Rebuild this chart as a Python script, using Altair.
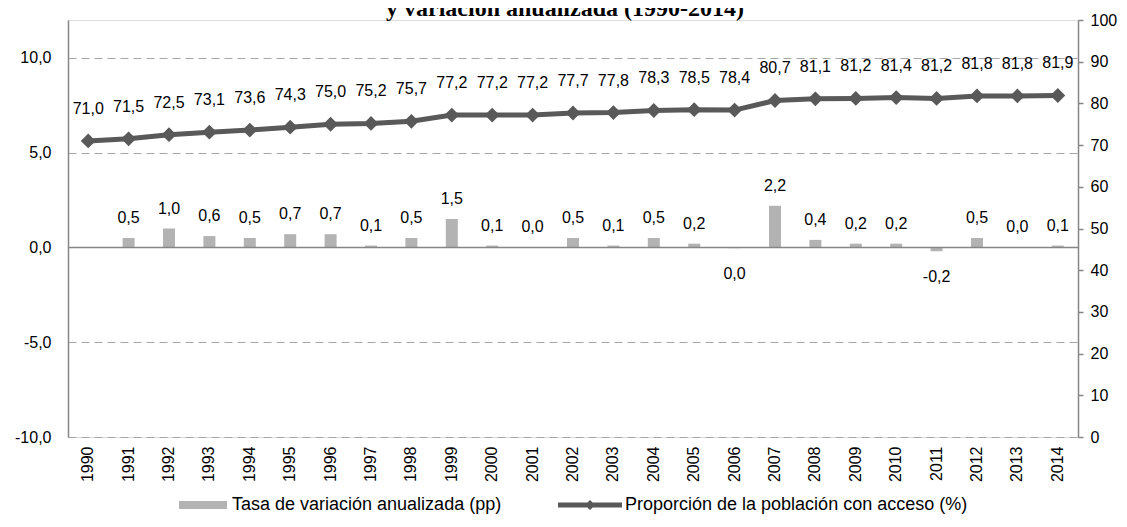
import altair as alt
import pandas as pd

years = [str(y) for y in range(1990, 2015)]
access = [71.0, 71.5, 72.5, 73.1, 73.6, 74.3, 75.0, 75.2, 75.7, 77.2, 77.2, 77.2, 77.7,
          77.8, 78.3, 78.5, 78.4, 80.7, 81.1, 81.2, 81.4, 81.2, 81.8, 81.8, 81.9]
variation = [None, 0.5, 1.0, 0.6, 0.5, 0.7, 0.7, 0.1, 0.5, 1.5, 0.1, 0.0, 0.5,
             0.1, 0.5, 0.2, -0.04, 2.2, 0.4, 0.2, 0.2, -0.2, 0.5, 0.0, 0.1]
left_ticks = [-10, -5, 0, 5, 10]
right_ticks = [0, 10, 20, 30, 40, 50, 60, 70, 80, 90, 100]
bar_name = "Tasa de variación anualizada (pp)"
line_name = "Proporción de la población con acceso (%)"
title_text = "y variación anualizada (1990-2014)"

df = pd.DataFrame({"year": years, "access": access, "chg": variation})
df["bar_s"] = bar_name
df["line_s"] = line_name

FONT = "Liberation Sans"
AX = "#868686"
FS = 16
LFS = 18


def comma_expr(field):
    return ("replace(replace(format(" + field + ", '.1f'), '.', ','), '\u2212', '-')")


x_enc = alt.X(
    "year:N", title=None,
    axis=alt.Axis(labelAngle=270, domain=False, ticks=False, tickSize=0,
                  labelPadding=9, labelFontSize=FS, labelFont=FONT,
                  labelColor="black"),
)

left_scale = alt.Scale(domain=[-10, 12], nice=False, zero=False)
right_scale = alt.Scale(domain=[0, 100], nice=False)

base = alt.Chart(df)

bars = base.mark_bar(size=12).encode(
    x=x_enc,
    y=alt.Y("chg:Q", scale=left_scale, title=None,
            axis=alt.Axis(values=left_ticks, orient="left", grid=True,
                          gridDash=[8, 5], gridColor="#a6a6a6", gridWidth=1,
                          ticks=False, tickSize=0, domainColor=AX, domainWidth=1.5,
                          labelExpr=comma_expr("datum.value"), labelPadding=17,
                          labelFontSize=FS, labelFont=FONT, labelColor="black")),
    color=alt.Color("bar_s:N", scale=alt.Scale(domain=[bar_name], range=["#b3b3b3"]),
                    legend=alt.Legend(title=None, orient="none", legendX=111, legendY=461,
                                      symbolType="M-1,-0.17H1V0.17H-1Z", symbolSize=2304,
                                      symbolStrokeWidth=0, labelFontSize=LFS, labelFont=FONT,
                                      labelColor="black", labelOffset=5, padding=0,
                                      labelLimit=0)),
).transform_filter("isValid(datum.chg)")

zero_rule = alt.Chart(pd.DataFrame({"z": [0]})).mark_rule(color=AX, strokeWidth=1.5).encode(
    y=alt.Y("z:Q", scale=left_scale, title=None)
)

bar_lab = base.transform_filter("isValid(datum.chg)").transform_calculate(
    lab=comma_expr("datum.chg")
)
lab_pos = bar_lab.transform_filter("datum.chg >= 0").mark_text(
    dy=-20, baseline="middle", fontSize=FS, font=FONT, color="black"
).encode(x=x_enc, y=alt.Y("chg:Q", scale=left_scale, title=None), text="lab:N")
lab_neg = bar_lab.transform_filter("datum.chg < 0").mark_text(
    dy=26, baseline="middle", fontSize=FS, font=FONT, color="black"
).encode(x=x_enc, y=alt.Y("chg:Q", scale=left_scale, title=None), text="lab:N")

left_layer = alt.layer(bars, zero_rule, lab_pos, lab_neg)

y_right = alt.Y("access:Q", scale=right_scale, title=None,
                axis=alt.Axis(values=right_ticks, orient="right", grid=False,
                              ticks=True, tickSize=5, tickColor=AX, tickWidth=1.5,
                              domainColor=AX, domainWidth=1.5, labelPadding=7,
                              labelFontSize=FS, labelFont=FONT, labelColor="black",
                              format="d"))

line = base.mark_line(color="#595959", strokeWidth=5).encode(x=x_enc, y=y_right)
points = base.mark_point(filled=True, shape="diamond", size=220, opacity=1).encode(
    x=x_enc, y=y_right,
    color=alt.Color("line_s:N", scale=alt.Scale(domain=[line_name], range=["#595959"]),
                    legend=alt.Legend(title=None, orient="none", legendX=490, legendY=453,
                                      symbolType="M-1,-0.078H1V0.078H-1Z M0,-0.16L0.16,0L0,0.16L-0.16,0Z",
                                      symbolSize=4096, symbolStrokeWidth=0, symbolOpacity=1,
                                      labelFontSize=LFS, labelFont=FONT,
                                      labelColor="black", labelOffset=3, padding=0,
                                      labelLimit=0)),
)
line_lab = base.transform_calculate(lab=comma_expr("datum.access")).mark_text(
    dy=-32, baseline="middle", fontSize=FS, font=FONT, color="black"
).encode(x=x_enc, y=y_right, text="lab:N")

right_layer = alt.layer(line, points, line_lab)

chart = alt.layer(left_layer, right_layer).resolve_scale(
    y="independent", color="independent"
).properties(
    width=1010, height=417,
    autosize=alt.AutoSizeParams(type="none"),
    padding={"left": 60, "top": 12, "right": 41, "bottom": 90},
    title=alt.TitleParams(title_text, font="Liberation Serif", fontSize=24,
                          fontWeight="bold", anchor="middle", frame="group",
                          offset=0, dx=-8, dy=9, color="black"),
).configure_view(stroke=None).configure(background="white")

chart.save("out.html", embed_options={"renderer": "svg", "actions": False})
